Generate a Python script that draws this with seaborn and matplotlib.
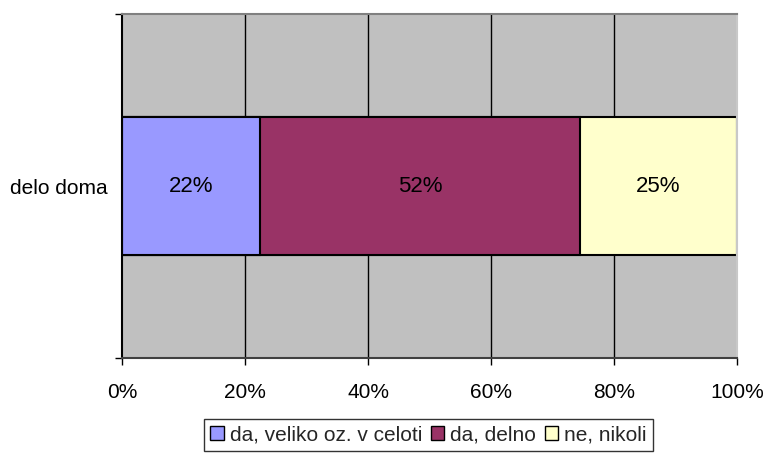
import matplotlib
matplotlib.use("Agg")
import matplotlib.pyplot as plt
import seaborn as sns
import pandas as pd
from matplotlib.patches import Patch

# data
category = ["delo doma"]
series = ["da, veliko oz. v celoti", "da, delno", "ne, nikoli"]
values = [22.4, 52.1, 25.5]
labels = ["22%", "52%", "25%"]
colors = ["#9999FF", "#993366", "#FFFFCC"]

sns.set_theme(style="white")
plt.rcParams['font.family'] = ['Liberation Sans', 'DejaVu Sans']
FS = 15

df = pd.DataFrame({"serija": series, "delez": values})
df["cum"] = df["delez"].cumsum()

fig = plt.figure(figsize=(7.64, 4.75), dpi=100)
ax = fig.add_axes([0.1597, 0.2463, 0.8050, 0.7242])
ax.set_facecolor("#C0C0C0")

# stacked bars: draw cumulative from the back so earlier segments sit on top
for i in range(len(series) - 1, -1, -1):
    sub = pd.DataFrame({"kat": category, "x": [df["cum"][i]]})
    sns.barplot(data=sub, x="x", y="kat", orient="h", color=colors[i],
                width=0.4, edgecolor="black", linewidth=1.5, ax=ax, saturation=1)

left = 0
for v, lab in zip(values, labels):
    ax.text(left + v / 2, 0, lab, ha="center", va="center", fontsize=FS + 1, color="black")
    left += v

ax.set_xlim(0, 100)
ax.set_ylim(0.5, -0.5)
ax.set_xticks([0, 20, 40, 60, 80, 100])
ax.set_xticklabels(["0%", "20%", "40%", "60%", "80%", "100%"], fontsize=FS, color="black")
ax.set_yticks([0])
ax.set_yticklabels(category, fontsize=FS, color="black")
ax.set_xlabel("")
ax.set_ylabel("")
for x in [20, 40, 60, 80]:
    ax.axvline(x, color="black", linewidth=1, zorder=0.5)
ax.set_axisbelow(True)

ax.tick_params(axis="x", bottom=True, direction="out", length=5, width=1, color="black", pad=13)
ax.tick_params(axis="y", left=False, pad=4.5)
# minor ticks at category boundaries on left
ax.set_yticks([-0.5, 0.5], minor=True)
ax.tick_params(axis="y", which="minor", left=True, direction="out", length=5, width=1, color="black")

ax.spines["left"].set_color("black")
ax.spines["left"].set_linewidth(1.5)
ax.spines["bottom"].set_color("#404040")
ax.spines["bottom"].set_linewidth(1.5)
ax.spines["top"].set_color("#808080")
ax.spines["top"].set_linewidth(1.5)
ax.spines["right"].set_color("#C8C8C8")
ax.spines["right"].set_linewidth(1.5)

handles = [Patch(facecolor=c, edgecolor="black", linewidth=1) for c in colors]
leg = fig.legend(handles, series, loc="center", bbox_to_anchor=(0.561, 0.084),
                 ncol=3, frameon=True, fontsize=FS, handlelength=0.65, handleheight=0.65,
                 handletextpad=0.3, columnspacing=0.4, borderpad=0.3, fancybox=False)
leg.get_frame().set_edgecolor("black")
leg.get_frame().set_linewidth(1)

fig.savefig("out.png", dpi=100)
